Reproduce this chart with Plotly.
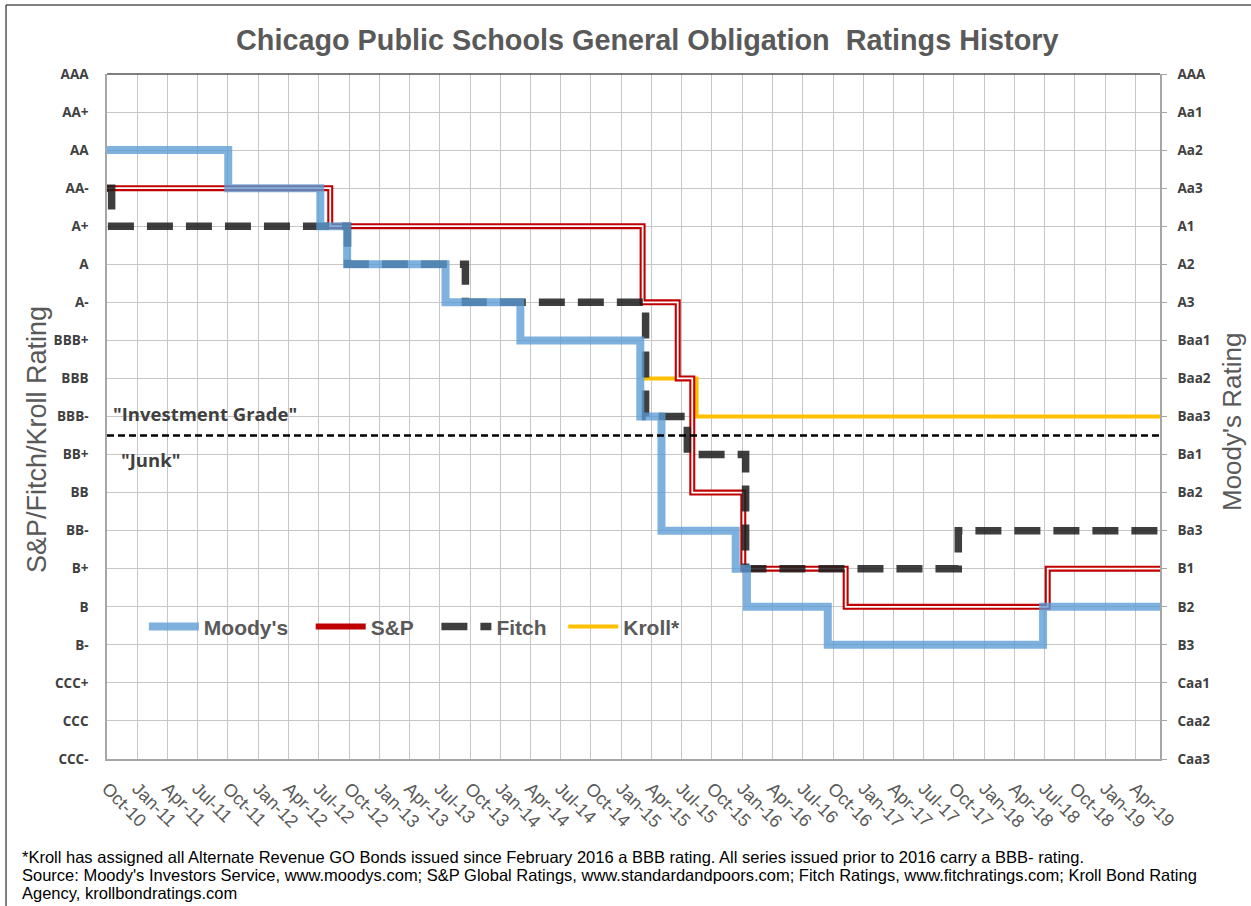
import plotly.graph_objects as go

# ---------------- data ----------------
sp_scale = ["AAA", "AA+", "AA", "AA-", "A+", "A", "A-", "BBB+", "BBB", "BBB-",
            "BB+", "BB", "BB-", "B+", "B", "B-", "CCC+", "CCC", "CCC-"]
moodys_scale = ["AAA", "Aa1", "Aa2", "Aa3", "A1", "A2", "A3", "Baa1", "Baa2", "Baa3",
                "Ba1", "Ba2", "Ba3", "B1", "B2", "B3", "Caa1", "Caa2", "Caa3"]

end_date = "2019-06-15"

moodys_dates = ["2010-10-01", "2011-10-02", "2012-07-06", "2012-09-25", "2013-07-19",
                "2014-03-02", "2015-02-27", "2015-05-02", "2015-12-12", "2016-01-15",
                "2016-09-15", "2018-06-27", end_date]
moodys_ratings = ["Aa2", "Aa3", "A1", "A2", "A3", "Baa1", "Baa3", "Ba3", "B1", "B2",
                  "B3", "B2", "B2"]

sp_dates = ["2010-10-01", "2012-08-05", "2015-03-06", "2015-06-20", "2015-08-03",
            "2016-01-04", "2016-11-08", "2018-07-11", end_date]
sp_ratings = ["AA-", "A+", "A-", "BBB", "BB", "B+", "B", "B+", "B+"]

fitch_dates = ["2010-10-01", "2010-10-15", "2012-09-26", "2013-09-17", "2015-03-15",
               "2015-07-19", "2016-01-11", "2017-10-14", end_date]
fitch_ratings = ["AA-", "A+", "A", "A-", "BBB-", "BB+", "B+", "BB-", "BB-"]

kroll_dates = ["2015-03-09", "2015-08-16", end_date]
kroll_ratings = ["BBB", "BBB-", "BBB-"]

investment_grade_floor = "BBB-"
junk_ceiling = "BB+"

title_text = "Chicago Public Schools General Obligation  Ratings History"
footnote_lines = [
    "*Kroll has assigned all Alternate Revenue GO Bonds issued since February 2016 a BBB rating. "
    "All series issued prior to 2016 carry a BBB- rating.",
    "Source: Moody's Investors Service, www.moodys.com; S&P Global Ratings, www.standardandpoors.com; "
    "Fitch Ratings, www.fitchratings.com; Kroll Bond Rating",
    "Agency, krollbondratings.com",
]

# ---------------- helpers ----------------
n = len(sp_scale)


def sp_val(r):
    return n - 1 - sp_scale.index(r)


def md_val(r):
    return n - 1 - moodys_scale.index(r)


tickvals = list(range(n))
sp_ticktext = [sp_scale[n - 1 - v] for v in tickvals]
md_ticktext = [moodys_scale[n - 1 - v] for v in tickvals]

pad = "\u00a0\u00a0\u00a0"

# ---------------- figure ----------------
fig = go.Figure()

fig.add_trace(go.Scatter(
    x=moodys_dates, y=[md_val(r) for r in moodys_ratings], yaxis="y2",
    mode="lines", line=dict(shape="hv", color="rgba(91,155,213,0.78)", width=8),
    name="Moody's" + pad, legendrank=1))

fig.add_trace(go.Scatter(
    x=kroll_dates, y=[sp_val(r) for r in kroll_ratings],
    mode="lines", line=dict(shape="hv", color="#FFC000", width=4),
    name="Kroll*", legendrank=4))

fig.add_trace(go.Scatter(
    x=sp_dates, y=[sp_val(r) for r in sp_ratings],
    mode="lines", line=dict(shape="hv", color="#C00000", width=6),
    name="S&P" + pad, legendrank=2))
fig.add_trace(go.Scatter(
    x=sp_dates, y=[sp_val(r) for r in sp_ratings],
    mode="lines", line=dict(shape="hv", color="white", width=1.8),
    showlegend=False, hoverinfo="skip"))

fig.add_trace(go.Scatter(
    x=fitch_dates, y=[sp_val(r) for r in fitch_ratings],
    mode="lines", line=dict(shape="hv", color="rgba(30,30,30,0.86)", width=7.5, dash="26px,13px"),
    name="Fitch" + "\u00a0\u00a0", legendrank=3))

cut = (sp_val(investment_grade_floor) + sp_val(junk_ceiling)) / 2.0

grid_col = "#C6C6C6"
axis_col = "#A6A6A6"
sans = "Liberation Sans, Arial, sans-serif"

fig.update_layout(
    width=1251, height=906,
    margin=dict(l=107, r=91, t=74, b=147),
    paper_bgcolor="white", plot_bgcolor="white",
    showlegend=True,
    legend=dict(orientation="h", x=0.035, y=0.193, xanchor="left", yanchor="middle",
                bgcolor="rgba(0,0,0,0)", itemwidth=50,
                font=dict(family=sans, size=21, color="#595959", weight="bold")),
    xaxis=dict(type="date", range=["2010-10-01", end_date],
               tick0="2010-10-01", dtick="M3", tickformat="%b-%y", tickangle=45,
               showgrid=True, gridcolor=grid_col, gridwidth=1,
               showline=True, linecolor=axis_col, linewidth=2,
               ticks="outside", ticklen=10, tickcolor="rgba(0,0,0,0)",
               zeroline=False,
               tickfont=dict(family=sans, size=18, color="#595959")),
    yaxis=dict(range=[0, n - 1], tickvals=tickvals, ticktext=sp_ticktext,
               showgrid=True, gridcolor=grid_col, gridwidth=1,
               showline=True, linecolor=axis_col, linewidth=1.5,
               ticks="", ticklabelstandoff=14, zeroline=False,
               tickfont=dict(family="Open Sans, sans-serif", size=13.5, color="#404040", weight="bold")),
    yaxis2=dict(range=[0, n - 1], tickvals=tickvals, ticktext=md_ticktext,
                overlaying="y", side="right", anchor="x",
                showgrid=False, showline=True, linecolor=axis_col, linewidth=1.5,
                ticks="outside", ticklen=5, tickcolor=axis_col, ticklabelstandoff=8,
                zeroline=False,
                tickfont=dict(family="Open Sans, sans-serif", size=13.5, color="#404040", weight="bold")),
    shapes=[
        dict(type="line", xref="paper", yref="paper", x0=0, x1=1, y0=1, y1=1,
             line=dict(color="black", width=1.2)),
        dict(type="line", xref="paper", yref="y", x0=0, x1=1, y0=cut, y1=cut,
             line=dict(color="black", width=2.5, dash="7px,4px")),
        dict(type="line", xref="paper", yref="paper", x0=-0.0959, x1=1.2, y0=1.1007, y1=1.1007,
             line=dict(color="#7F7F7F", width=2)),
        dict(type="line", xref="paper", yref="paper", x0=-0.0959, x1=-0.0959, y0=1.1007, y1=-0.25,
             line=dict(color="black", width=1)),
    ],
)

fig.add_annotation(text=title_text, xref="paper", yref="paper", x=0.513, y=1.0496,
                   xanchor="center", yanchor="middle", showarrow=False,
                   font=dict(family=sans, size=28.8, color="#595959", weight="bold"))
fig.add_annotation(text="S&P/Fitch/Kroll Rating", xref="paper", yref="paper", x=-0.0665, y=0.467,
                   xanchor="center", yanchor="middle", textangle=-90, showarrow=False,
                   font=dict(family=sans, size=27, color="#595959"))
fig.add_annotation(text="Moody's Rating", xref="paper", yref="paper", x=1.0684, y=0.492,
                   xanchor="center", yanchor="middle", textangle=-90, showarrow=False,
                   font=dict(family=sans, size=26, color="#595959"))
fig.add_annotation(text='"Investment Grade"', xref="paper", yref="paper", x=0.004, y=0.505,
                   xanchor="left", yanchor="middle", showarrow=False,
                   font=dict(family="Open Sans, sans-serif", size=18.5, color="#404040", weight="bold"))
fig.add_annotation(text='"Junk"', xref="paper", yref="paper", x=0.011, y=0.4365,
                   xanchor="left", yanchor="middle", showarrow=False,
                   font=dict(family="Open Sans, sans-serif", size=18.5, color="#404040", weight="bold"))
for i, line in enumerate(footnote_lines):
    ypx = 857 + 18 * i
    fig.add_annotation(text=line, xref="paper", yref="paper", x=-0.0826, y=(759 - ypx) / 685,
                       xanchor="left", yanchor="middle", align="left", showarrow=False,
                       font=dict(family=sans, size=16.5, color="black"))

fig.write_html("out.html", config={"displayModeBar": False},
               post_script="document.body.style.margin='0';")
